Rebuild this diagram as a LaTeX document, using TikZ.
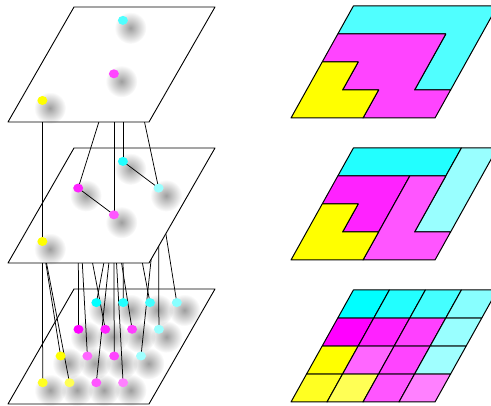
\documentclass[tikz,border=0pt]{standalone}
\usepackage{tikz}
\usetikzlibrary{shapes.geometric,fadings}
% fine level colours (cell i,j)
\definecolor{c00}{HTML}{FFFF22}
\definecolor{c10}{HTML}{FFFF55}
\definecolor{c20}{HTML}{FF55FF}
\definecolor{c30}{HTML}{FF80FF}
\definecolor{c01}{HTML}{FFFF00}
\definecolor{c11}{HTML}{FF66FF}
\definecolor{c21}{HTML}{FF44FF}
\definecolor{c31}{HTML}{A0FFFF}
\definecolor{c02}{HTML}{FF00FF}
\definecolor{c12}{HTML}{FF22FF}
\definecolor{c22}{HTML}{FF40FF}
\definecolor{c32}{HTML}{99FFFF}
\definecolor{c03}{HTML}{00FFFF}
\definecolor{c13}{HTML}{22FFFF}
\definecolor{c23}{HTML}{44FFFF}
\definecolor{c33}{HTML}{88FFFF}
% middle level
\definecolor{myel}{HTML}{FFFF00}
\definecolor{mmagA}{HTML}{FF22FF}
\definecolor{mmagB}{HTML}{FF55FF}
\definecolor{mcyanA}{HTML}{22FFFF}
\definecolor{mcyanB}{HTML}{99FFFF}
% top level
\definecolor{tyel}{HTML}{FFFF00}
\definecolor{tmag}{HTML}{FF44FF}
\definecolor{tcyan}{HTML}{50FFFF}
\tikzfading[name=blobfade, inner color=transparent!0, outer color=transparent!100]
\tikzset{
  plane/.style ={draw=black, fill=white, line width=0.9pt, line join=round},
  cell/.style  ={draw=black, fill=#1, line width=1pt, line join=round},
  vtx/.style   ={ellipse, fill=#1, inner sep=0pt, minimum width=10pt, minimum height=9pt},
  blob/.style  ={fill=black, opacity=0.38, path fading=blobfade},
  link/.style  ={line width=0.75pt},
  lplane/.style={x={(35.25pt,0pt)}, y={(16.5pt,28.75pt)}},
  rplane/.style={x={(36pt,0pt)}, y={(15.6pt,28pt)}},
}

\begin{document}
\begin{tikzpicture}[x=1pt, y=1pt]
\useasboundingbox (0,0) rectangle (491,406);

% right side: partitions
\begin{scope}[shift={(291,288)}, rplane]
  \draw[cell=tcyan] (0,4) -- (4,4) -- (4,1) -- (3,1) -- (3,3) -- (0,3) -- cycle;
  \draw[cell=tmag] (2,0) -- (4,0) -- (4,1) -- (3,1) -- (3,3) -- (0,3) -- (0,2) -- (1,2) -- (1,1) -- (2,1) -- cycle;
  \draw[cell=tyel] (0,0) -- (2,0) -- (2,1) -- (1,1) -- (1,2) -- (0,2) -- cycle;
\end{scope}
\begin{scope}[shift={(291,146)}, rplane]
  \draw[cell=mcyanA] (0,3) -- (3,3) -- (3,4) -- (0,4) -- cycle;
  \draw[cell=mcyanB] (3,1) -- (4,1) -- (4,4) -- (3,4) -- cycle;
  \draw[cell=mmagA] (0,2) -- (1,2) -- (1,1) -- (2,1) -- (2,3) -- (0,3) -- cycle;
  \draw[cell=mmagB] (2,0) -- (4,0) -- (4,1) -- (3,1) -- (3,3) -- (2,3) -- cycle;
  \draw[cell=myel] (0,0) -- (2,0) -- (2,1) -- (1,1) -- (1,2) -- (0,2) -- cycle;
\end{scope}
\begin{scope}[shift={(291,4)}, rplane]
  \foreach \i in {0,...,3}
    \foreach \j in {0,...,3}
      \draw[cell=c\i\j] (\i,\j) -- ++(1,0) -- ++(0,1) -- ++(-1,0) -- cycle;
\end{scope}

% left side: vertex positions
\foreach \i in {0,...,3}
  \foreach \j in {0,...,3}
    \coordinate (b\i\j) at ({42.7+26.8*\i+17.9*\j},{23.3+26.7*\j});
\coordinate (my)  at (42.4,164.5);
\coordinate (mm1) at (78.2,217.9);
\coordinate (mm2) at (113.9,191.2);
\coordinate (mc)  at (122.9,244.6);
\coordinate (mlc) at (158.6,217.9);
\coordinate (ty)  at (42.4,305.5);
\coordinate (tm)  at (113.9,332.2);
\coordinate (tc)  at (122.9,385.6);

% fine level
\begin{scope}[shift={(8,2)}, lplane]
  \draw[plane] (0,0) -- (4,0) -- (4,4) -- (0,4) -- cycle;
\end{scope}
\foreach \i in {0,...,3}
  \foreach \j in {0,...,3}
    \fill[blob] ([shift={(7.5,-7.5)}]b\i\j) circle (16);
\foreach \a/\b in {b00/my, b10/my, b01/my, b02/mm1, b12/mm1, b11/mm1,
                   b22/mm2, b21/mm2, b20/mm2, b30/mm2, b03/mc, b13/mc, b23/mc,
                   b31/mlc, b32/mlc, b33/mlc}
  \draw[link] (\a) -- (\b);
\foreach \i in {0,...,3}
  \foreach \j in {0,...,3}
    \node[vtx=c\i\j] (b\i\j) at (b\i\j) {};

% middle level
\begin{scope}[shift={(8,143)}, lplane]
  \draw[plane] (0,0) -- (4,0) -- (4,4) -- (0,4) -- cycle;
\end{scope}
\foreach \p in {my, mm1, mm2, mc, mlc}
  \fill[blob] ([shift={(7.5,-7.5)}]\p) circle (16);
\draw[link] (mm1) -- (mm2);
\draw[link] (mc) -- (mlc);
\foreach \a/\b in {my/ty, mm1/tm, mm2/tm, mc/tc, mlc/tc}
  \draw[link] (\a) -- (\b);
\node[vtx=myel] (my) at (my) {};
\node[vtx=mmagA] (mm1) at (mm1) {};
\node[vtx=mmagB] (mm2) at (mm2) {};
\node[vtx=mcyanA] (mc) at (mc) {};
\node[vtx=mcyanB] (mlc) at (mlc) {};

% coarse level
\begin{scope}[shift={(8,284)}, lplane]
  \draw[plane] (0,0) -- (4,0) -- (4,4) -- (0,4) -- cycle;
\end{scope}
\foreach \p in {ty, tm, tc}
  \fill[blob] ([shift={(7.5,-7.5)}]\p) circle (16);
\node[vtx=tyel] (ty) at (ty) {};
\node[vtx=tmag] (tm) at (tm) {};
\node[vtx=tcyan] (tc) at (tc) {};
\end{tikzpicture}
\end{document}
